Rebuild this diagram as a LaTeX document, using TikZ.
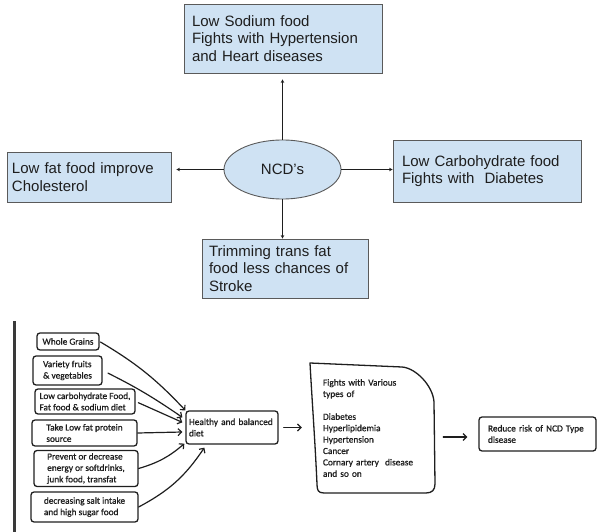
\documentclass[tikz,border=0pt]{standalone}
\usepackage{fontspec}
\setmainfont{Liberation Sans}
\newfontfamily\handfont{Carlito}[FakeBold=0.9]
\usetikzlibrary{arrows.meta,shapes.geometric}
\definecolor{boxfill}{HTML}{CFE2F3}
\definecolor{boxline}{HTML}{5A5A5A}
\definecolor{ink}{HTML}{1E1E1E}
\definecolor{barcol}{HTML}{3A3A3A}
\newcommand{\mkline}[1]{\mbox{#1}}
\begin{document}
\begin{tikzpicture}[x=1pt,y=-1pt,
  bluebox/.style={draw=boxline, fill=boxfill, line width=0.9pt,
    font=\fontsize{15}{17.3}\selectfont, align=left, text=ink, inner ysep=0pt},
  ncdell/.style={ellipse, draw=boxline, fill=boxfill, line width=0.9pt,
    font=\fontsize{15}{17.3}\selectfont, text=ink, inner sep=0pt},
  tarrow/.style={draw=ink, line width=0.7pt, -{Stealth[length=3.5pt,width=3.5pt]}},
  handbox/.style={draw=ink, line width=1.3pt, rounded corners=3pt,
    font=\handfont\fontsize{9.3}{11.4}\selectfont, align=left, inner sep=0pt, text=ink},
  handtext/.style={font=\handfont\fontsize{9.3}{11.4}\selectfont, align=left, inner ysep=0pt, text=ink},
  handline/.style={draw=ink, line width=1.3pt, line join=round},
  harrow/.style={draw=ink, line width=1.2pt, line cap=round, -{Straight Barb[length=3.5pt,width=7pt]}}
]
\useasboundingbox (0,0) rectangle (603,532);

% ---------- top diagram ----------
\node[bluebox, minimum width=198pt, minimum height=69pt, text width=182pt, inner xsep=8pt]
  (top) at (283,38.5) {Low Sodium food\\Fights with Hypertension\\and Heart diseases};
\node[bluebox, minimum width=164pt, minimum height=50pt, text width=154pt, inner xsep=5pt]
  (lft) at (89,177) {Low fat food improve\\Cholesterol};
\node[bluebox, minimum width=188pt, minimum height=62pt, text width=170pt, inner xsep=9pt]
  (rgt) at (487,171) {Low Carbohydrate food\\Fights with\ \ Diabetes};
\node[bluebox, minimum width=166pt, minimum height=59pt, text width=152pt, inner xsep=7pt]
  (bot) at (285,268.5) {Trimming trans fat\\food less chances of\\Stroke};
\node[ncdell, minimum width=117pt, minimum height=59pt] (ncd) at (282.5,169.5) {NCD's};

\draw[tarrow, shorten >=6pt] (ncd.north) -- (ncd.north |- top.south);
\draw[tarrow, shorten >=5pt] (ncd.west) -- (ncd.west -| lft.east);
\draw[tarrow] (ncd.east) -- (ncd.east -| rgt.west);
\draw[tarrow] (ncd.south) -- (ncd.south |- bot.north);

% ---------- bottom diagram ----------
\draw[line width=3pt, draw=barcol] (14,321) -- (14,532);

\node[handbox, minimum width=62pt, minimum height=17pt] (wg) at (68,341.5) {Whole Grains};
\node[handbox, minimum width=69pt, minimum height=29pt] (vf) at (67.5,370.5) {Variety fruits\\\& vegetables};
\node[handbox, minimum width=100pt, minimum height=25pt] (lc) at (85,401.5) {Low carbohydrate Food,\\Fat food \& sodium diet};
\node[handbox, minimum width=105pt, minimum height=26pt] (tl) at (84.5,433) {Take Low fat protein\\source};
\node[handbox, minimum width=104pt, minimum height=36pt] (pv) at (86,468.5) {Prevent or decrease\\energy or softdrinks,\\junk food, transfat};
\node[handbox, minimum width=107pt, minimum height=30pt] (ds) at (84.5,507) {decreasing salt intake\\and high sugar food};

\node[handbox, minimum width=92pt, minimum height=33pt, text width=86pt, inner xsep=3pt]
  (hb) at (232,427.5) {\mkline{Healthy and balanced}\\diet};

\node[handtext, minimum width=125pt, minimum height=130pt, text width=99pt, inner xsep=13pt]
  (fb) at (372.5,428) {Fights with Various\\types of\\[11.4pt]Diabetes\\Hyperlipidemia\\Hypertension\\Cancer\\\mkline{Cornary artery\ \ disease}\\and so on};
\draw[handline] (310,363) -- (402,367) .. controls (416,368) and (433,386) .. (434,402)
  -- (435,484) .. controls (435,490) and (432,493) .. (426,493)
  -- (324,493) .. controls (318,493) and (317,490) .. (317,484)
  .. controls (315,440) and (312,400) .. (310,363) -- cycle;

\node[handbox, minimum width=117pt, minimum height=34pt, text width=99pt, inner xsep=9pt]
  (rb) at (537.5,434) {\mkline{Reduce risk of NCD Type}\\disease};

\draw[harrow, shorten <=1pt] (wg.east) to[bend left=8] (hb.north west);
\draw[harrow, shorten <=6pt] (vf.east) to[bend left=4] ([xshift=-3pt,yshift=-7pt]hb.north west);
\draw[harrow, shorten <=3pt] (lc.east) -- ([xshift=-3pt,yshift=-12pt]hb.north west);
\draw[harrow] (tl.east) -- ([xshift=-3pt,yshift=-4.5pt]hb.west);
\draw[harrow] (pv.east) to[bend right=12] ([xshift=-1pt,yshift=1pt]hb.south west);
\draw[harrow] (ds.east) to[bend right=14] ([xshift=19pt,yshift=-3pt]hb.south west);

\draw[harrow, shorten <=5pt, shorten >=8pt] (hb.east) -- (hb.east -| fb.west);
\draw[harrow, shorten <=8pt, shorten >=11pt] ([yshift=-9pt]fb.east) -- ([yshift=-9pt]fb.east -| rb.west);
\end{tikzpicture}
\end{document}
